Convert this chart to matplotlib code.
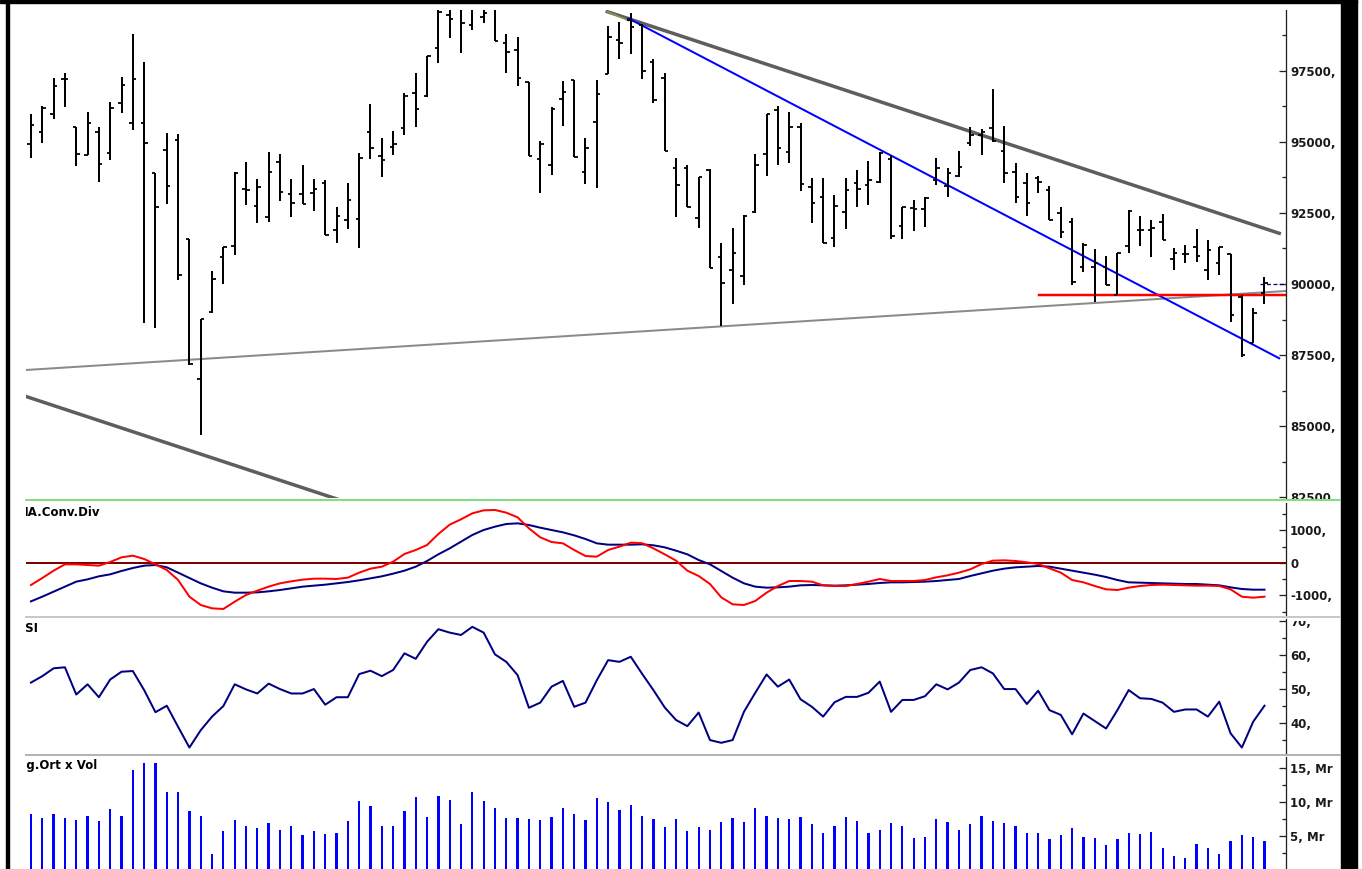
import matplotlib
matplotlib.use("Agg")
import matplotlib.pyplot as plt
from matplotlib.lines import Line2D
from matplotlib.patches import Rectangle
from matplotlib.ticker import MultipleLocator, FuncFormatter
from matplotlib.transforms import Bbox, TransformedBbox, ScaledTranslation

# ---- price bars (open, high, low, close) ----
opens = [94931, 95362, 95985, 97205, 95540, 94545, 95340, 94600, 96385, 95680,
         95660, 93920, 94720, 95070, 91575, 86645, 89005, 90965, 91340, 93345,
         92760, 92345, 94285, 93170, 93170, 93215, 93565, 91900, 92255, 92288,
         95362, 94518, 94835, 95503, 96712, 96630, 98319, 99469, 99700, 99117,
         99410, 99700, 98495, 98237, 97122, 94389, 94189, 96501, 97181, 93954,
         95714, 97392, 98589, 99293, 99117, 97826, 97240, 94072, 94072, 92312,
         94013, 90939, 90493, 90282, 92546, 94576, 96125, 94658, 95538, 93426,
         93074, 91608, 92546, 93567, 93485, 93603, 94389, 92042, 92664, 92629,
         93661, 93450, 93802, 94975, 95245, 95480, 94694, 93954, 93544, 93720,
         93309, 92488, 92195, 90611, 90611, 90611, 89613, 91338, 91901, 91901,
         92195, 90869, 91057, 91315, 90493, 90728, 91057, 89555, 87935, 89672]
highs = [95988, 96266, 97263, 97440, 95540, 96070, 95540, 96420, 97300, 98790,
         97830, 93920, 95305, 95270, 91575, 88770, 90470, 91315, 93930, 94285,
         93685, 94660, 94580, 93695, 94190, 93685, 93660, 92720, 93565, 94600,
         96325, 95128, 95386, 96735, 97416, 98038, 99900, 99900, 99900, 99900,
         99900, 99900, 98788, 98683, 97122, 95046, 96242, 97146, 97181, 95128,
         97181, 99082, 99234, 99551, 99152, 97908, 97439, 94424, 94189, 93778,
         94037, 91432, 91960, 92429, 94576, 95973, 96266, 96067, 95656, 93720,
         93720, 93133, 93720, 94013, 94342, 94658, 94541, 92722, 92957, 93051,
         94447, 94072, 94682, 95538, 95456, 96852, 95562, 94248, 93896, 93814,
         93450, 92722, 92336, 91432, 91221, 90986, 91103, 92605, 92394, 92253,
         92464, 91256, 91373, 91925, 91549, 91315, 91057, 89613, 89144, 90259]
lows = [94450, 94952, 95809, 96243, 94170, 94545, 93580, 94370, 96010, 95420,
        88615, 88440, 92820, 90140, 87150, 84685, 88970, 90000, 91020, 92780,
        92135, 92195, 92920, 92370, 92805, 92570, 91725, 91430, 91925, 91256,
        94389, 93778, 94541, 95245, 95515, 96594, 97791, 98648, 98143, 98941,
        99199, 98566, 97416, 96970, 94518, 93192, 93837, 95562, 94459, 93509,
        93391, 97392, 97908, 98085, 97216, 96360, 94694, 92347, 92722, 91983,
        90552, 88522, 89297, 89965, 92511, 93814, 94189, 94248, 93286, 92136,
        91455, 91291, 91937, 92699, 92781, 93567, 91573, 91573, 91878, 92018,
        93485, 93074, 93778, 94858, 94541, 95010, 93544, 92840, 92394, 93192,
        92253, 91631, 89965, 90435, 89379, 89965, 89613, 91080, 91338, 90962,
        91549, 90493, 90728, 90787, 90141, 90318, 88675, 87419, 87912, 89297]
closes = [95600, 96207, 96982, 97228, 94570, 95660, 94215, 96210, 97010, 97205,
          94955, 92725, 93450, 90305, 87185, 88770, 90190, 91315, 93895, 93310,
          93425, 93955, 93230, 92840, 92815, 93335, 91725, 92395, 92960, 94447,
          94776, 94365, 94928, 96618, 96160, 98026, 99586, 99328, 99176, 99700,
          99528, 98566, 98178, 97240, 94518, 94928, 96149, 96770, 94459, 94799,
          96677, 98683, 98495, 99058, 97510, 96477, 94694, 93485, 92722, 93778,
          90575, 90024, 91080, 92394, 94189, 95973, 94776, 95538, 93520, 92863,
          91455, 92746, 93309, 93333, 93661, 94600, 91690, 92699, 92629, 93039,
          94072, 93896, 94131, 95245, 95339, 95046, 93919, 93074, 92863, 93603,
          92253, 91843, 90083, 91373, 90728, 89965, 91080, 92582, 91901, 91960,
          91549, 91080, 91057, 90986, 91197, 91315, 88909, 87500, 88968, 90024]

# ---- MACD / signal ----
macd = [-677, -462, -236, -41, -41, -62, -82, 31, 174, 226,
        123, -41, -215, -523, -1036, -1292, -1395, -1415, -1190, -985,
        -851, -728, -626, -564, -513, -482, -482, -492, -451, -297,
        -174, -113, 41, 277, 400, 554, 892, 1180, 1344, 1528,
        1620, 1631, 1549, 1405, 1067, 790, 646, 605, 400, 215,
        195, 400, 503, 626, 610, 451, 267, 72, -236, -400,
        -646, -1057, -1272, -1292, -1169, -913, -708, -554, -554, -574,
        -687, -708, -708, -646, -574, -492, -554, -554, -554, -523,
        -441, -379, -297, -195, -31, 72, 82, 62, 21, -31,
        -164, -297, -523, -595, -708, -810, -831, -759, -708, -677,
        -667, -677, -687, -697, -697, -708, -810, -1036, -1067, -1036]
signal = [-1180, -1036, -882, -728, -574, -503, -410, -349, -246, -154,
          -82, -62, -133, -297, -462, -626, -759, -872, -913, -913,
          -903, -872, -831, -780, -728, -697, -667, -626, -585, -533,
          -472, -410, -328, -236, -113, 62, 267, 451, 656, 862,
          1015, 1118, 1200, 1220, 1169, 1087, 1015, 944, 851, 738,
          605, 564, 564, 564, 575, 544, 482, 379, 267, 92,
          -41, -246, -451, -626, -728, -759, -749, -728, -687, -677,
          -687, -697, -687, -667, -646, -615, -595, -595, -585, -574,
          -554, -523, -492, -400, -318, -236, -174, -133, -113, -92,
          -113, -174, -236, -297, -359, -431, -523, -595, -605, -615,
          -626, -636, -646, -646, -667, -687, -749, -800, -821, -821]

# ---- RSI ----
rsi = [51.9, 53.8, 56.1, 56.4, 48.4, 51.4, 47.6, 52.8, 55.1, 55.3,
       49.7, 43.2, 45.1, 38.9, 32.8, 37.9, 41.9, 45.0, 51.4, 49.9,
       48.7, 51.6, 50.0, 48.7, 48.7, 50.0, 45.4, 47.6, 47.6, 54.4,
       55.4, 53.8, 55.6, 60.5, 58.9, 63.9, 67.6, 66.6, 65.9, 68.3,
       66.6, 60.2, 58.0, 54.1, 44.5, 46.0, 50.7, 52.4, 44.8, 46.0,
       52.6, 58.5, 58.0, 59.5, 54.5, 49.7, 44.6, 40.9, 39.1, 43.1,
       35.0, 34.2, 35.0, 43.3, 48.9, 54.3, 50.7, 52.8, 47.0, 44.8,
       41.9, 46.1, 47.7, 47.7, 48.9, 52.2, 43.3, 46.8, 46.8, 47.9,
       51.4, 49.9, 51.9, 55.6, 56.4, 54.6, 50.0, 50.0, 45.6, 49.5,
       43.8, 42.4, 36.7, 42.8, 40.6, 38.4, 43.8, 49.7, 47.3, 47.1,
       46.0, 43.3, 44.0, 44.0, 41.9, 46.3, 37.0, 32.8, 40.4, 45.1]

# ---- volume (millions) ----
volume = [8.3, 7.6, 8.2, 7.6, 7.3, 8.0, 7.2, 8.9, 7.9, 14.7,
          15.7, 15.7, 11.4, 11.5, 8.7, 8.0, 2.3, 5.8, 7.3, 6.5,
          6.1, 6.9, 5.9, 6.5, 5.2, 5.8, 5.3, 5.5, 7.2, 10.2,
          9.4, 6.5, 6.5, 8.7, 10.7, 7.8, 10.9, 10.3, 6.7, 11.4,
          10.2, 9.1, 7.6, 7.6, 7.5, 7.3, 7.8, 9.1, 8.2, 7.3,
          10.6, 10.0, 8.8, 9.6, 7.9, 7.5, 6.3, 7.5, 5.8, 6.3,
          5.9, 7.0, 7.6, 7.0, 9.1, 7.9, 7.6, 7.5, 7.8, 6.7,
          5.5, 6.5, 7.8, 7.2, 5.5, 5.9, 6.9, 6.4, 4.7, 4.9,
          7.5, 7.0, 5.9, 6.7, 8.0, 7.2, 6.9, 6.4, 5.5, 5.5,
          4.6, 5.2, 6.2, 4.9, 4.7, 3.7, 4.6, 5.5, 5.3, 5.6,
          3.2, 2.0, 1.7, 3.8, 3.2, 2.3, 4.3, 5.2, 4.9, 4.3]

# ---- drawn trend lines (bar index, price) ----
support_x, support_y = [-0.44, 110.9], [86973, 89754]
lower_x, lower_y = [-0.38, 30.0], [86033, 82041]
upper_x, upper_y = [50.93, 110.3], [99585, 91785]
blue_x, blue_y = [52.78, 110.3], [99353, 87385]
red_x, red_y = [89.08, 111.0], [89623, 89623]

n = len(closes)
xs = list(range(n))
W, H = 1362, 869
fig = plt.figure(figsize=(W / 100, H / 100), dpi=100)
fig.patch.set_facecolor("white")

LEFT, RIGHT = 26, 1286
XLIM = (-0.44, 110.9)
PX = 0.72  # points per pixel


def panel(top, bot):
    ax = fig.add_axes([LEFT / W, (H - bot) / H, (RIGHT - LEFT) / W, (bot - top) / H])
    ax.set_xlim(*XLIM)
    for s in ["left", "top", "bottom"]:
        ax.spines[s].set_visible(False)
    ax.spines["right"].set_linewidth(1.3 * PX)
    ax.spines["right"].set_color("#222222")
    ax.set_xticks([])
    ax.yaxis.tick_right()
    ax.tick_params(axis="y", which="both", direction="in", left=False, right=True,
                   width=1.3 * PX, color="#222222", labelsize=8.5, labelcolor="#1a1a1a", pad=3)
    ax.tick_params(axis="y", which="major", length=7 * PX)
    ax.tick_params(axis="y", which="minor", length=4 * PX)
    ax.set_facecolor("none")
    return ax


def clip_labels(ax, top, bot):
    box = TransformedBbox(Bbox.from_bounds(0, (H - bot) / H, 1, (bot - top) / H), fig.transFigure)
    for lab in ax.get_yticklabels():
        lab.set_fontweight("bold")
        lab.set_clip_box(box)
        lab.set_clip_on(True)


def title(ax, txt, shift_px):
    off = ScaledTranslation(-shift_px / 100, -9 / 100, fig.dpi_scale_trans)
    ax.text(0, 1, txt, transform=ax.transAxes + off, ha="left", va="center",
            fontsize=8.5, fontweight="bold", color="black", clip_on=True)


# ---- price panel ----
P_TOP, P_BOT = 10, 498
axp = panel(P_TOP, P_BOT)
axp.set_ylim(82467, 99645)
axp.plot(support_x, support_y, color="#8a8a8a", lw=2 * PX)
axp.plot(lower_x, lower_y, color="#5e5e5e", lw=3.5 * PX)
axp.plot(upper_x, upper_y, color="#5e5e5e", lw=3.5 * PX)
axp.plot(upper_x[:1] + [52.8], [upper_y[0], 99270], color="#9a9a40", lw=1.5 * PX)
axp.plot(blue_x, blue_y, color="#0000ff", lw=2 * PX)
axp.plot(red_x, red_y, color="#ff0000", lw=2.5 * PX)
axp.plot([108.6, 110.9], [90000, 90000], color="#000080", lw=1.3 * PX, ls=(0, (3, 2)))
tw = 0.31
axp.vlines(xs, lows, highs, color="black", lw=2 * PX)
axp.hlines(opens, [x - tw for x in xs], xs, color="black", lw=1.8 * PX)
axp.hlines(closes, xs, [x + tw for x in xs], color="black", lw=1.8 * PX)
axp.yaxis.set_major_locator(MultipleLocator(2500))
axp.yaxis.set_minor_locator(MultipleLocator(1250))
axp.yaxis.set_major_formatter(FuncFormatter(lambda v, p: f"{v:.0f},"))

# ---- MACD panel ----
M_TOP, M_BOT = 503, 615
axm = panel(M_TOP, M_BOT)
axm.set_ylim(-1600, 1846)
axm.axhline(0, color="#800000", lw=2 * PX)
axm.plot(xs, signal, color="#000080", lw=2 * PX)
axm.plot(xs, macd, color="#ff0000", lw=2 * PX)
axm.yaxis.set_major_locator(MultipleLocator(1000))
axm.yaxis.set_minor_locator(MultipleLocator(500))
axm.yaxis.set_major_formatter(FuncFormatter(lambda v, p: "0" if abs(v) < 1 else f"{v:.0f},"))
title(axm, "MA.Conv.Div", 9.2)

# ---- RSI panel ----
R_TOP, R_BOT = 619, 753
axr = panel(R_TOP, R_BOT)
axr.set_ylim(31.2, 70.6)
axr.plot(xs, rsi, color="#000080", lw=2 * PX)
axr.yaxis.set_major_locator(MultipleLocator(10))
axr.yaxis.set_minor_locator(MultipleLocator(5))
axr.yaxis.set_major_formatter(FuncFormatter(lambda v, p: f"{v:.0f},"))
title(axr, "RSI", 9.5)

# ---- volume panel ----
V_TOP, V_BOT = 757, 869
axv = panel(V_TOP, V_BOT)
axv.set_ylim(0.15, 16.6)
axv.bar(xs, volume, width=0.2, color="#0000ff")
axv.yaxis.set_major_locator(MultipleLocator(5))
axv.yaxis.set_minor_locator(MultipleLocator(2.5))
axv.yaxis.set_major_formatter(FuncFormatter(lambda v, p: f"{v:.0f}, Mr"))
title(axv, "Avg.Ort x Vol", 16)

fig.canvas.draw()
for ax, t, b in [(axp, P_TOP, P_BOT + 2), (axm, M_TOP, M_BOT), (axr, R_TOP + 2, R_BOT), (axv, V_TOP, V_BOT)]:
    clip_labels(ax, t, b)

# ---- separators and frame ----
def hline_px(y, color, lw, x0=LEFT, x1=1340):
    fig.add_artist(Line2D([x0 / W, x1 / W], [(H - y) / H, (H - y) / H], color=color, lw=lw * PX,
                          transform=fig.transFigure))

hline_px(500, "#7fe07f", 2)
hline_px(617, "#c8c8c8", 2)
hline_px(755, "#b4b4b4", 2)
fig.add_artist(Rectangle((0, (H - 3) / H), 1357 / W, 3 / H, color="black", transform=fig.transFigure))
fig.add_artist(Rectangle((6 / W, 0), 2.5 / W, 1, color="black", transform=fig.transFigure))
fig.add_artist(Rectangle((1341 / W, 0), 16 / W, 1, color="black", transform=fig.transFigure))

fig.savefig("out.png", dpi=100, facecolor="white")
